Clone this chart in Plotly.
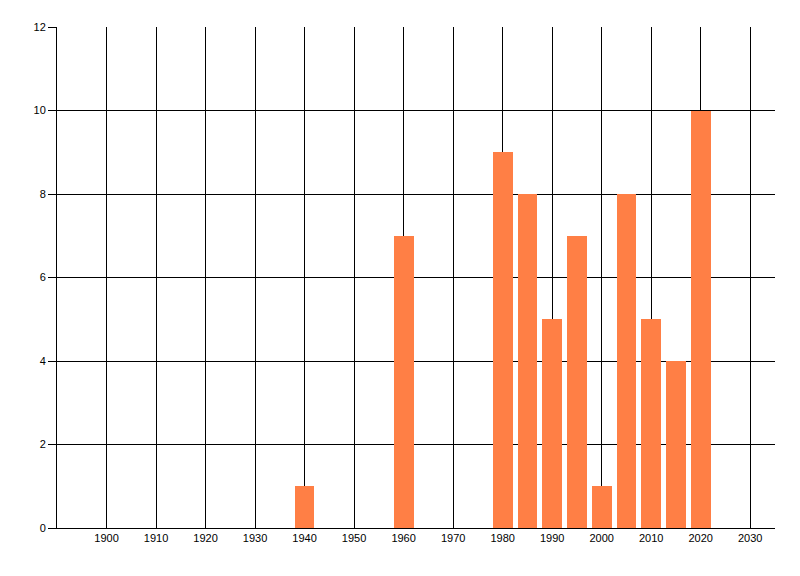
import plotly.graph_objects as go

years = [1940, 1960, 1980, 1985, 1990, 1995, 2000, 2005, 2010, 2015, 2020]
values = [1, 7, 9, 8, 5, 7, 1, 8, 5, 4, 10]
x_ticks = list(range(1900, 2031, 10))
y_ticks = [0, 2, 4, 6, 8, 10, 12]

fig = go.Figure()
fig.add_trace(go.Bar(x=years, y=values, width=4, marker=dict(color="#FF7F45", line=dict(width=0))))

fig.update_layout(
    width=792, height=568,
    margin=dict(l=49, r=25, t=19, b=48),
    plot_bgcolor="white", paper_bgcolor="white",
    font=dict(family="Liberation Sans, Arial, sans-serif", size=11, color="black"),
    showlegend=False,
    bargap=0,
)
fig.update_xaxes(
    range=[1890, 2035], tickvals=x_ticks, ticktext=[str(v) for v in x_ticks],
    showgrid=True, gridcolor="black", gridwidth=1,
    showline=True, linecolor="black", linewidth=1,
    ticks="", zeroline=False,
)
fig.update_yaxes(
    range=[0, 12], tickvals=y_ticks,
    showgrid=True, gridcolor="black", gridwidth=1,
    showline=True, linecolor="black", linewidth=1,
    ticks="outside", ticklen=8, tickcolor="black", tickwidth=1,
    zeroline=False,
)

fig.write_html("out.html")
